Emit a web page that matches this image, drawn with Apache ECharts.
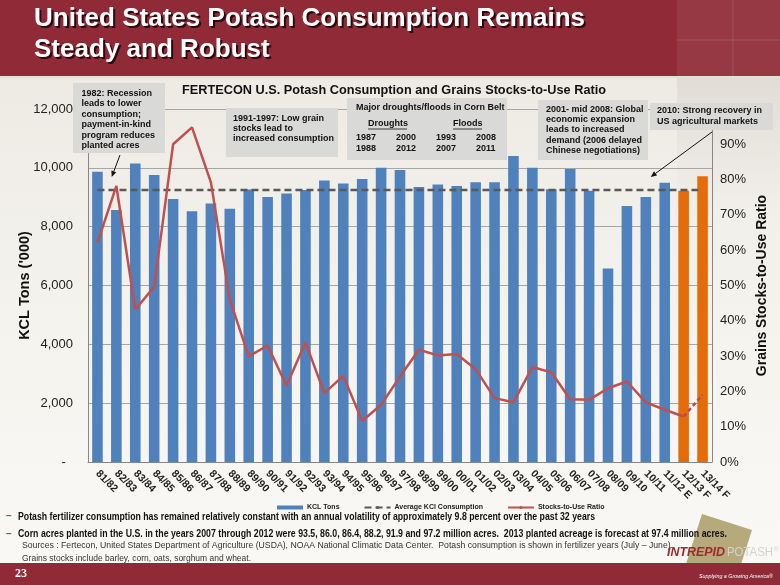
<!DOCTYPE html>
<html><head><meta charset="utf-8">
<script src="https://cdn.jsdelivr.net/npm/echarts@6/dist/echarts.min.js"></script>
<style>html,body{margin:0;padding:0;background:#f3f1eb;}#c{width:780px;height:585px;}</style>
</head><body><div id="c"></div>
<script>
// ---------------- data ----------------
const categories = ['81/82','82/83','83/84','84/85','85/86','86/87','87/88','88/89','89/90','90/91',
  '91/92','92/93','93/94','94/95','95/96','96/97','97/98','98/99','99/00','00/01','01/02','02/03',
  '03/04','04/05','05/06','06/07','07/08','08/09','09/10','10/11','11/12 E','12/13 F','13/14 F'];
const kclTons = [9870, 8570, 10150, 9760, 8940, 8520, 8790, 8610, 9260, 9010,
  9130, 9250, 9570, 9470, 9620, 10000, 9930, 9350, 9430, 9380, 9510, 9510,
  10400, 10000, 9270, 9960, 9220, 6580, 8700, 9010, 9490, 9220, 9710];
const avgConsumption = [9250, 9250, 9250, 9250, 9250, 9250, 9250, 9250, 9250, 9250,
  9250, 9250, 9250, 9250, 9250, 9250, 9250, 9250, 9250, 9250, 9250, 9250,
  9250, 9250, 9250, 9250, 9250, 9250, 9250, 9250, 9250, 9250, 9250];
const stocksToUse = [62.1, 78.2, 43.2, 49.6, 90.0, 94.8, 79.2, 46.0, 29.9, 33.0,
  21.6, 33.9, 19.5, 24.4, 11.6, 16.2, 24.2, 31.8, 30.2, 30.6, 26.3, 18.1,
  16.9, 26.9, 25.4, 17.8, 17.6, 20.9, 22.8, 16.9, 14.8, 12.9, 19.0];
const forecastCategories = ['12/13 F', '13/14 F'];
const dashedRatioCategories = ['12/13 F', '13/14 F'];
const leftTicks = {min: 0, max: 12000, interval: 2000};
const rightTicks = {min: 0, max: 100, interval: 10};

// ---------------- helpers ----------------
const FONT = '"Liberation Sans", Arial, sans-serif';
const mctx = document.createElement('canvas').getContext('2d');
function measure(text, font) { mctx.font = font; return mctx.measureText(text).width; }
function mkFont(size, weight, italic, family) {
  return (italic ? 'italic ' : '') + weight + ' ' + size + 'px ' + (family || FONT);
}
function fitText(text, x, y, w, size, weight, fill, opt) {
  opt = opt || {};
  const font = mkFont(size, weight, opt.italic, opt.family);
  const sx = w / measure(text, font);
  return {type: 'text', x: x, y: y, scaleX: sx, z: opt.z || 100,
    style: {text: text, font: font, fill: fill, align: 'left', verticalAlign: 'middle'}};
}
function plainText(text, x, y, size, weight, fill, opt) {
  opt = opt || {};
  return {type: 'text', x: x, y: y, z: opt.z || 100,
    style: {text: text, font: mkFont(size, weight, opt.italic, opt.family), fill: fill,
      align: opt.align || 'left', verticalAlign: opt.va || 'middle', lineHeight: opt.lh}};
}
function box(x, y, w, h) {
  return {type: 'rect', z: 90, shape: {x: x, y: y, width: w, height: h}, style: {fill: '#d9d9d7'}};
}
function arrow(x1, y1, x2, y2) {
  const a = Math.atan2(y2 - y1, x2 - x1), L = 6, W = 2.6;
  const bx = x2 - L * Math.cos(a), by = y2 - L * Math.sin(a);
  return [
    {type: 'line', z: 95, shape: {x1: x1, y1: y1, x2: bx, y2: by}, style: {stroke: '#111', lineWidth: 1}},
    {type: 'polygon', z: 95, shape: {points: [[x2, y2],
      [bx + W * Math.sin(a), by - W * Math.cos(a)], [bx - W * Math.sin(a), by + W * Math.cos(a)]]},
      style: {fill: '#111'}}
  ];
}

// ---------------- graphics ----------------
const RED = '#8f2a36';
const g = [];
g.push({type: 'rect', z: -20, shape: {x: 0, y: 0, width: 780, height: 585},
  style: {fill: new echarts.graphic.LinearGradient(0, 0, 0, 1,
    [{offset: 0, color: '#ebe8e0'}, {offset: 0.5, color: '#f4f2ed'}, {offset: 1, color: '#faf9f6'}])}});
g.push({type: 'rect', z: -19, shape: {x: 677, y: 78, width: 103, height: 130},
  style: {fill: new echarts.graphic.LinearGradient(0, 0, 0, 1,
    [{offset: 0, color: 'rgba(185,180,170,0.25)'}, {offset: 1, color: 'rgba(185,180,170,0)'}])}});
g.push({type: 'rect', z: -18, shape: {x: 0, y: 0, width: 780, height: 76}, style: {fill: RED}});
g.push({type: 'rect', z: -17, shape: {x: 677, y: 0, width: 103, height: 76}, style: {fill: 'rgba(255,255,255,0.07)'}});
g.push({type: 'line', z: -16, shape: {x1: 733, y1: 0, x2: 733, y2: 76}, style: {stroke: 'rgba(255,255,255,0.14)', lineWidth: 1}});
g.push({type: 'line', z: -16, shape: {x1: 677, y1: 40, x2: 780, y2: 40}, style: {stroke: 'rgba(255,255,255,0.14)', lineWidth: 1}});
g.push({type: 'line', z: -16, shape: {x1: 0, y1: 77, x2: 780, y2: 77}, style: {stroke: '#e4e0d6', lineWidth: 2}});

// slide title (white with dark shadow)
const t1 = 'United States Potash Consumption Remains', t2 = 'Steady and Robust';
const tFont = mkFont(25, 'bold');
const tScale = 551 / measure(t1, tFont);
[[t1, 19], [t2, 50]].forEach(function (p) {
  g.push({type: 'text', x: 36, y: p[1] + 2, scaleX: tScale, z: 100,
    style: {text: p[0], font: tFont, fill: '#2a0a0e', align: 'left', verticalAlign: 'middle'}});
  g.push({type: 'text', x: 34, y: p[1], scaleX: tScale, z: 101,
    style: {text: p[0], font: tFont, fill: '#ffffff', align: 'left', verticalAlign: 'middle'}});
});

// chart title
g.push(fitText('FERTECON U.S. Potash Consumption and Grains Stocks-to-Use Ratio', 182, 90, 424, 13.5, 'bold', '#111'));

// annotation boxes
g.push(box(73, 83, 92, 70));
g.push(plainText('1982: Recession\nleads to lower\nconsumption;\npayment-in-kind\nprogram reduces\nplanted acres',
  81.5, 88, 9, 'bold', '#111', {va: 'top', lh: 10.5}));
g.push(box(226, 108, 112, 49));
g.push(plainText('1991-1997: Low grain\nstocks lead to\nincreased consumption', 233, 113.3, 9, 'bold', '#111', {va: 'top', lh: 10}));
g.push(box(347, 98, 160, 62));
g.push(plainText('Major droughts/floods in Corn Belt', 356, 107.3, 9, 'bold', '#111'));
g.push(plainText('Droughts', 368, 124, 9, 'bold', '#111'));
g.push(plainText('Floods', 453, 124, 9, 'bold', '#111'));
g.push({type: 'line', z: 100, shape: {x1: 368, y1: 129, x2: 407, y2: 129}, style: {stroke: '#111', lineWidth: 0.8}});
g.push({type: 'line', z: 100, shape: {x1: 453, y1: 129, x2: 482, y2: 129}, style: {stroke: '#111', lineWidth: 0.8}});
[['1987', 356, 138], ['2000', 396, 138], ['1993', 436, 138], ['2008', 476, 138],
 ['1988', 356, 149], ['2012', 396, 149], ['2007', 436, 149], ['2011', 476, 149]].forEach(function (p) {
  g.push(plainText(p[0], p[1], p[2], 9, 'bold', '#111'));
});
g.push(box(538, 100, 110, 60));
g.push(plainText('2001- mid 2008: Global\neconomic expansion\nleads to increased\ndemand (2006 delayed\nChinese negotiations)',
  546, 104, 9, 'bold', '#111', {va: 'top', lh: 10.4}));
g.push(box(650, 103, 123, 27));
g.push(plainText('2010: Strong recovery in\nUS agricultural markets', 657, 105.2, 9, 'bold', '#111', {va: 'top', lh: 11}));
arrow(120, 155, 111.7, 177).forEach(function (e) { g.push(e); });
arrow(712, 132, 650.7, 177).forEach(function (e) { g.push(e); });

// bottom bullets
g.push(plainText('–', 6, 516, 10, 'bold', '#c0392b'));
g.push(plainText('–', 6, 534, 10, 'bold', '#c0392b'));
g.push(fitText('Potash fertilizer consumption has remained relatively constant with an annual volatility of approximately 9.8 percent over the past 32 years',
  18, 517, 577, 10.5, 'bold', '#111'));
g.push(fitText('Corn acres planted in the U.S. in the years 2007 through 2012 were 93.5, 86.0, 86.4, 88.2, 91.9 and 97.2 million acres.  2013 planted acreage is forecast at 97.4 million acres.',
  18, 534, 709, 10.5, 'bold', '#111', {z: 110}));
g.push(fitText('Sources : Fertecon, United States Department of Agriculture (USDA), NOAA National Climatic Data Center.  Potash consumption is shown in fertilizer years (July – June).',
  22, 545, 651, 9.5, 'normal', '#333'));
g.push(fitText('Grains stocks include barley, corn, oats, sorghum and wheat.', 22, 558, 229, 9.5, 'normal', '#333'));

// logo and footer
g.push({type: 'polygon', z: 50, shape: {points: [[702, 514], [752, 530], [736, 580], [686, 564]]}, style: {fill: '#b6aa7c'}});
g.push({type: 'rect', z: 60, shape: {x: 0, y: 563, width: 780, height: 22}, style: {fill: RED}});
g.push(plainText('23', 15, 574, 12, 'bold', '#ffffff', {family: '"Liberation Serif", "Times New Roman", serif', z: 120}));
g.push(fitText('INTREPID', 667, 553, 58, 12.5, 'bold', '#a3282c', {italic: true, z: 120}));
g.push(fitText('POTASH', 727, 553, 46, 12, 'normal', '#d2d2d2', {z: 120}));
g.push(plainText('®', 774, 549, 6, 'normal', '#d2d2d2', {z: 120}));
g.push(fitText('Supplying a Growing America®', 699, 576, 74, 6, 'normal', '#ffffff', {italic: true, z: 120}));

// ---------------- chart ----------------
const chart = echarts.init(document.getElementById('c'), null, {renderer: 'canvas'});
const barData = kclTons.map(function (v, i) {
  return forecastCategories.indexOf(categories[i]) >= 0 ? {value: v, itemStyle: {color: '#e46c0a'}} : v;
});
const firstDashed = categories.indexOf(dashedRatioCategories[0]);
const ratioSolid = stocksToUse.map(function (v, i) { return i <= firstDashed ? v : null; });
const ratioDashed = stocksToUse.map(function (v, i) { return i >= firstDashed ? v : null; });

chart.setOption({
  backgroundColor: 'transparent',
  animation: false,
  textStyle: {fontFamily: FONT},
  grid: {left: 88, right: 68, top: 109, bottom: 123, outerBoundsMode: 'none', containLabel: false},
  legend: {
    left: 272, top: 499, itemGap: 24, itemWidth: 26, itemHeight: 4,
    textStyle: {fontSize: 7, fontWeight: 'bold', color: '#222', fontFamily: FONT, padding: [0, 0, 0, -1]},
    data: [{name: 'KCL Tons', icon: 'rect'}, {name: 'Average KCl Consumption'}, {name: 'Stocks-to-Use Ratio'}]
  },
  xAxis: {
    type: 'category', data: categories, boundaryGap: true,
    axisLine: {lineStyle: {color: '#868686', width: 1}},
    axisTick: {show: false},
    axisLabel: {rotate: -45, margin: 10, fontSize: 10.5, fontWeight: 'bold', color: '#222', interval: 0, fontFamily: FONT}
  },
  yAxis: [{
    type: 'value', min: leftTicks.min, max: leftTicks.max, interval: leftTicks.interval,
    name: "KCL Tons ('000)", nameLocation: 'middle', nameGap: 56, nameRotate: 90, nameMoveOverlap: false,
    nameTextStyle: {fontSize: 14.5, fontWeight: 'bold', color: '#111', fontFamily: FONT},
    axisLine: {show: true, lineStyle: {color: '#868686'}},
    axisTick: {show: false},
    axisLabel: {margin: 15, fontSize: 13, color: '#222', fontFamily: FONT,
      formatter: function (v) { return v === 0 ? '-  ' : v.toLocaleString('en-US'); }},
    splitLine: {show: true, lineStyle: {color: '#a6a6a6', width: 1}}
  }, {
    type: 'value', min: rightTicks.min, max: rightTicks.max, interval: rightTicks.interval, position: 'right',
    name: 'Grains Stocks-to-Use Ratio', nameLocation: 'middle', nameGap: 43, nameRotate: 90, nameMoveOverlap: false,
    nameTextStyle: {fontSize: 14, fontWeight: 'bold', color: '#111', fontFamily: FONT},
    axisLine: {show: true, lineStyle: {color: '#868686'}},
    axisTick: {show: false},
    axisLabel: {margin: 8, fontSize: 13, color: '#222', fontFamily: FONT,
      formatter: function (v) { return v >= 100 ? '' : v + '%'; }},
    splitLine: {show: false}
  }],
  series: [{
    name: 'KCL Tons', type: 'bar', data: barData, barWidth: '56%',
    itemStyle: {color: '#4f81bd'}, z: 2
  }, {
    name: 'Average KCl Consumption', type: 'line', data: avgConsumption, symbol: 'none',
    lineStyle: {color: '#595959', width: 2.5, type: [7, 4]}, itemStyle: {color: '#595959'}, z: 3
  }, {
    name: 'Stocks-to-Use Ratio', type: 'line', yAxisIndex: 1, data: ratioSolid, symbol: 'none',
    lineStyle: {color: '#c0504d', width: 2.5}, itemStyle: {color: '#c0504d'}, z: 4
  }, {
    name: 'Stocks-to-Use Ratio (F)', type: 'line', yAxisIndex: 1, data: ratioDashed, symbol: 'none',
    lineStyle: {color: '#b8475e', width: 2.5, type: [4, 3]}, itemStyle: {color: '#b8475e'}, z: 4
  }],
  graphic: {elements: g}
});
</script>
</body></html>
